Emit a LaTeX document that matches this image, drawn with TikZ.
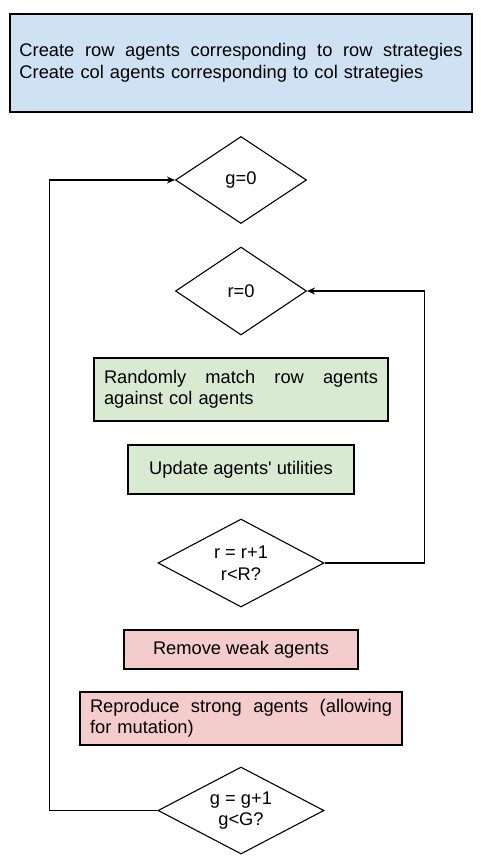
\documentclass[tikz,border=0pt]{standalone}
\usepackage{fontspec}
\setmainfont{Liberation Sans}
\newfontfamily\plainfont{Liberation Sans}
\usetikzlibrary{shapes.geometric,arrows.meta}
\definecolor{boxblue}{HTML}{CFE2F3}
\definecolor{boxgreen}{HTML}{D9EAD3}
\definecolor{boxpink}{HTML}{F4CCCC}
\begin{document}
\begin{tikzpicture}[x=1pt,y=-1pt,
  every node/.style={font=\fontsize{18.3}{21.5}\selectfont},
  procbox/.style={draw=black,line width=1.3pt,rectangle,inner ysep=0pt},
  decbox/.style={draw=black,line width=1.1pt,diamond,aspect=1.9,inner sep=0pt,align=center},
  arr/.style={line width=1.2pt,-{Stealth[length=8pt,width=7pt]}}]
\useasboundingbox (0,0) rectangle (481,863);
\node[procbox,fill=boxblue,text width=443pt,inner xsep=9.5pt,minimum height=98pt,align=left] (init) at (241,63)
  {\hbox to 443pt{Create\hfill row\hfill agents\hfill corresponding\hfill to\hfill row\hfill strategies}\\Create col agents corresponding to col strategies};
\node[decbox,minimum width=131pt,minimum height=87pt] (g0) at (241,180) {g=0};
\node[decbox,minimum width=131pt,minimum height=88pt] (r0) at (241,291) {r=0};
\node[procbox,fill=boxgreen,text width=274pt,inner xsep=10pt,minimum height=63pt,align=left] (match) at (241,389.5)
  {\hbox to 274pt{Randomly\hfill match\hfill row\hfill agents}\\against col agents};
\node[procbox,fill=boxgreen,minimum width=226pt,minimum height=49pt] (upd) at (241,469.5) {\plainfont Update agents' utilities};
\node[decbox,minimum width=166pt,minimum height=88pt] (rr) at (241,563) {r = r+1\\r<R?};
\node[procbox,fill=boxpink,minimum width=234pt,minimum height=39pt] (rem) at (241,649.5) {Remove weak agents};
\node[procbox,fill=boxpink,text width=302pt,inner xsep=10pt,minimum height=53pt,align=left] (rep) at (241,718.5)
  {\hbox to 302pt{Reproduce\hfill strong\hfill agents\hfill (allowing}\\for mutation)};
\node[decbox,minimum width=166pt,minimum height=87pt] (gg) at (241,810.5) {g = g+1\\g<G?};
\draw[arr] (gg.west) -- ++(-108,0) |- (g0.west);
\draw[arr] (rr.east) -- ++(100,0) |- (r0.east);
\end{tikzpicture}
\end{document}
